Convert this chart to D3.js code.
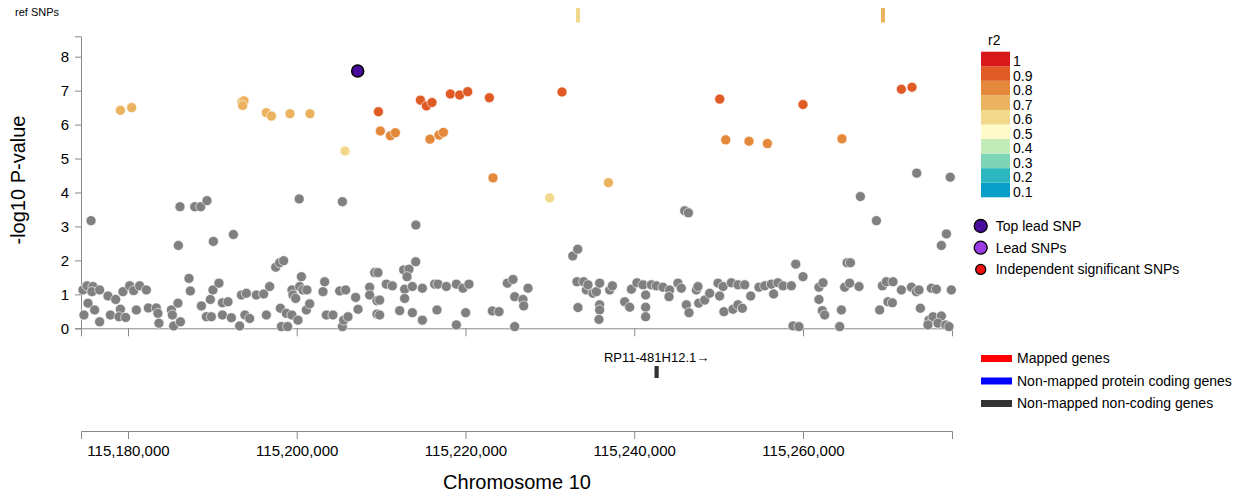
<!DOCTYPE html>
<html>
<head>
<meta charset="utf-8">
<script src="https://cdn.jsdelivr.net/npm/d3@7"></script>
<style>
body{margin:0;background:#fff;}
svg{font-family:"Liberation Sans",Arial,Helvetica,sans-serif;}
.axis path,.axis line{stroke:#888;}
.axis text{fill:#000;}
</style>
</head>
<body>
<svg id="chart" width="1252" height="497"></svg>
<script>

// region shown (bp)
const regionStart = 115174430;
const regionEnd = 115277660;
const xTicks = [115180000, 115200000, 115220000, 115240000, 115260000];
const yTicks = [0, 1, 2, 3, 4, 5, 6, 7, 8];

// r2 legend
const r2Labels = ["0.1","0.2","0.3","0.4","0.5","0.6","0.7","0.8","0.9","1"];
const r2Colors = ["#0a9fc8","#2bb7c0","#7dd4b6","#c2ebb8","#fffac8","#f1d88a","#ebb35f","#e4883a","#e05a26","#d7191c"];

// SNPs without LD to lead: [position, -log10 P]
const otherSnps = [
  [115175620,3.17],[115186160,3.58],[115185970,2.44],[115187910,3.58],[115188620,3.58],[115189360,3.76],
  [115190120,2.56],[115192490,2.76],[115200290,3.81],[115205410,3.73],[115214120,3.04],[115214100,1.96],
  [115232710,2.13],[115233300,2.33],[115245980,3.46],[115246420,3.40],[115266800,3.88],[115268700,3.17],
  [115273480,4.57],[115277450,4.45],[115277000,2.78],[115276400,2.44],[115259140,1.89],[115260000,1.52],
  [115265220,1.93],[115265620,1.93],[115197510,1.80],[115197980,1.93],[115198450,1.99],[115209240,1.64],
  [115209630,1.64],[115212680,1.72],[115213300,1.74],[115213070,1.52],[115187230,1.47],[115200550,1.52],
  [115174780,0.39],[115174660,1.13],[115175140,1.25],[115175260,0.74],[115175850,1.23],[115175730,1.08],
  [115176050,0.54],[115176640,0.19],[115176640,1.13],[115177630,0.95],[115177910,0.39],[115178540,0.85],
  [115179100,0.56],[115178930,0.34],[115179720,0.32],[115179400,1.08],[115180200,1.25],[115180670,1.11],
  [115181380,1.25],[115182180,1.13],[115180990,0.54],[115182410,0.60],[115183360,0.60],[115183550,0.44],
  [115183670,0.15],[115185140,0.54],[115185260,0.39],[115185410,0.07],[115185920,0.74],[115186210,0.19],
  [115187390,1.10],[115188700,0.66],[115189290,0.34],[115189880,0.34],[115189760,0.85],[115190070,1.13],
  [115190780,1.33],[115191190,0.75],[115191850,0.78],[115191190,0.39],[115192250,0.31],[115193230,0.07],
  [115193440,0.98],[115194030,1.03],[115195210,0.98],[115196080,1.01],[115193860,0.39],[115194420,0.29],
  [115196400,0.39],[115196790,1.23],[115198060,0.59],[115198770,0.44],[115199430,0.39],[115198180,0.05],
  [115198920,0.05],[115199430,1.13],[115199550,0.98],[115199870,0.88],[115200140,0.24],[115200350,1.23],
  [115200740,1.13],[115201210,1.13],[115201140,0.54],[115201530,0.72],[115203110,1.08],[115203310,1.37],
  [115203510,0.39],[115204290,0.39],[115205090,1.10],[115205800,1.13],[115205410,0.05],[115205560,0.24],
  [115206070,0.34],[115206980,0.91],[115207260,0.56],[115208640,1.21],[115208640,0.98],[115209510,0.81],
  [115209510,0.42],[115210620,1.30],[115209830,0.83],[115209830,0.39],[115211330,1.25],[115212200,0.52],
  [115212790,1.15],[115212790,0.88],[115213700,1.23],[115213700,0.46],[115214890,1.18],[115214890,0.24],
  [115216350,1.30],[115216740,1.30],[115216620,0.54],[115217730,1.23],[115218920,1.30],[115219700,1.18],
  [115220410,1.30],[115218920,0.10],[115220020,0.46],[115223180,0.51],[115223970,0.49],[115224960,1.33],
  [115225630,1.44],[115225830,0.93],[115226810,0.85],[115226900,0.66],[115225830,0.05],[115227410,1.18],
  [115233210,1.37],[115234010,1.37],[115233330,0.61],[115234330,1.13],[115234520,1.28],[115235110,1.03],
  [115235510,1.08],[115235900,1.33],[115235900,0.69],[115235900,0.54],[115235820,0.26],[115237090,1.13],
  [115237410,1.25],[115238870,0.78],[115239460,0.62],[115239660,1.15],[115240320,1.34],[115241040,1.28],
  [115242030,1.28],[115242620,1.25],[115243410,1.21],[115244200,1.13],[115245180,1.33],[115245580,1.18],
  [115241350,0.98],[115241350,0.62],[115241350,0.34],[115244120,0.93],[115246180,0.69],[115246490,0.46],
  [115247360,1.13],[115247550,1.23],[115247640,0.74],[115248350,0.83],[115248940,1.03],[115249930,1.33],
  [115250530,1.23],[115251510,1.34],[115252300,1.28],[115253090,1.28],[115250120,0.95],[115250630,0.49],
  [115251700,0.56],[115252290,0.69],[115252810,0.59],[115253800,0.95],[115254780,1.21],[115255460,1.25],
  [115256250,1.30],[115257030,1.34],[115257630,1.25],[115256520,1.01],[115258620,1.25],[115258810,0.07],
  [115259520,0.05],[115261890,1.21],[115262370,1.34],[115261890,0.85],[115262290,0.52],[115262570,0.39],
  [115264550,0.54],[115264350,0.05],[115264940,1.21],[115265530,1.33],[115266640,1.23],[115269410,1.25],
  [115269880,1.37],[115270670,1.37],[115269090,0.54],[115270070,0.78],[115270590,0.75],[115271660,1.13],
  [115272850,1.21],[115273440,1.08],[115273750,1.13],[115273910,0.59],[115275210,1.18],[115275810,1.15],
  [115274930,0.24],[115275410,0.34],[115276400,0.36],[115274810,0.10],[115275990,0.15],[115276910,0.10],
  [115277300,0.05],[115277580,1.13]
];

// SNPs in LD with the lead SNP: [position, -log10 P, r2]
const ldSnps = [
  [115179100,6.42,0.65],[115180440,6.50,0.65],[115193510,6.67,0.65],[115193750,6.70,0.65],[115193590,6.56,0.65],
  [115196400,6.35,0.65],[115197000,6.25,0.65],[115199200,6.32,0.65],[115201570,6.32,0.65],[115205720,5.22,0.58],
  [115209680,6.38,0.85],[115209910,5.81,0.75],[115211100,5.67,0.75],[115211690,5.76,0.75],[115214660,6.72,0.85],
  [115215370,6.55,0.85],[115216030,6.65,0.85],[115218210,6.90,0.85],[115219310,6.87,0.85],[115220260,6.97,0.85],
  [115222830,6.79,0.85],[115231440,6.96,0.85],[115215790,5.57,0.75],[115216860,5.69,0.75],[115217380,5.77,0.75],
  [115223260,4.43,0.75],[115229980,3.84,0.55],[115236940,4.29,0.65],[115250130,6.75,0.85],[115250840,5.55,0.75],
  [115253600,5.51,0.75],[115255780,5.44,0.75],[115260000,6.59,0.85],[115264620,5.58,0.75],[115271660,7.04,0.85],
  [115272920,7.10,0.85]
];

const topLead = [115207220, 7.58];

// reference panel SNPs: [position, r2]
const refSnps = [[115233330,0.58],[115269480,0.65]];

const genes = [
  {name:"RP11-481H12.1", start:115242400, end:115242900, strand:"+", type:"noncoding"}
];

const snpLegend = [
  {label:"Top lead SNP", fill:"#4a0c9c", r:6.5},
  {label:"Lead SNPs", fill:"#9a3be6", r:6.5},
  {label:"Independent significant SNPs", fill:"#f01010", r:5}
];
const geneLegend = [
  {label:"Mapped genes", fill:"#ff0000"},
  {label:"Non-mapped protein coding genes", fill:"#0000ff"},
  {label:"Non-mapped non-coding genes", fill:"#333333"}
];

const svg = d3.select("#chart");

const x = d3.scaleLinear()
    .domain([regionStart, regionEnd])
    .range([81, 952]);

const y = d3.scaleLinear()
    .domain([0, 8.6])
    .range([328.3, 36.3]);

const r2Color = d3.scaleThreshold()
    .domain([0.1,0.2,0.3,0.4,0.5,0.6,0.7,0.8,0.9])
    .range(r2Colors);

// ref SNPs strip
svg.append("text")
    .attr("x", 15)
    .attr("y", 15.5)
    .attr("font-size", 11)
    .text("ref SNPs");

svg.selectAll(".ref")
    .data(refSnps)
    .enter()
    .append("rect")
    .attr("x", d => x(d[0]) - 2)
    .attr("y", 8)
    .attr("width", 4)
    .attr("height", 14.5)
    .attr("fill", d => r2Color(d[1]));

// axes
svg.append("g")
    .attr("class", "axis")
    .attr("transform", "translate(81,0)")
    .call(d3.axisLeft(y).tickValues(yTicks).tickSize(6).tickSizeOuter(6).tickPadding(6))
    .attr("font-size", 15)
    .attr("font-family", null);

svg.append("g")
    .attr("class", "axis")
    .attr("transform", "translate(0,328.3)")
    .call(d3.axisBottom(x).tickValues(xTicks).tickFormat("").tickSize(8).tickSizeOuter(8));

svg.append("text")
    .attr("transform", "translate(25,180) rotate(-90)")
    .attr("text-anchor", "middle")
    .attr("font-size", 20)
    .text("-log10 P-value");

// points
svg.selectAll(".grey")
    .data(otherSnps)
    .enter()
    .append("circle")
    .attr("cx", d => x(d[0]))
    .attr("cy", d => y(d[1]))
    .attr("r", 5)
    .attr("fill", "#808080")
    .attr("stroke", "#fff")
    .attr("stroke-width", 0.6);

svg.selectAll(".ld")
    .data(ldSnps)
    .enter()
    .append("circle")
    .attr("cx", d => x(d[0]))
    .attr("cy", d => y(d[1]))
    .attr("r", 5)
    .attr("fill", d => r2Color(d[2]))
    .attr("stroke", "#fff")
    .attr("stroke-width", 0.6);

svg.append("circle")
    .attr("cx", x(topLead[0]))
    .attr("cy", y(topLead[1]))
    .attr("r", 6)
    .attr("fill", "#4a0c9c")
    .attr("stroke", "#000")
    .attr("stroke-width", 1.5);

// r2 legend
const leg = svg.append("g");

leg.append("text")
    .attr("x", 988)
    .attr("y", 45)
    .attr("font-size", 14)
    .text("r2");

const boxH = 14.56;
const legItems = r2Labels.map((l, i) => ({label: l, color: r2Colors[i], row: 9 - i}));

leg.selectAll("rect")
    .data(legItems)
    .enter()
    .append("rect")
    .attr("x", 981)
    .attr("y", d => 51.7 + d.row * boxH)
    .attr("width", 29)
    .attr("height", boxH)
    .attr("fill", d => d.color);

leg.selectAll(".lab")
    .data(legItems)
    .enter()
    .append("text")
    .attr("x", 1013)
    .attr("y", d => 51.7 + d.row * boxH + boxH/2 + 7)
    .attr("font-size", 14)
    .text(d => d.label);

const snpLeg = svg.append("g")
    .selectAll("g")
    .data(snpLegend)
    .enter()
    .append("g")
    .attr("transform", (d, i) => `translate(980.7,${226 + i*21.7})`);

snpLeg.append("circle")
    .attr("r", d => d.r)
    .attr("fill", d => d.fill)
    .attr("stroke", "#000")
    .attr("stroke-width", 1.3);

snpLeg.append("text")
    .attr("x", 15)
    .attr("y", 5)
    .attr("font-size", 14)
    .text(d => d.label);

// gene track
const geneG = svg.append("g")
    .selectAll("g")
    .data(genes)
    .enter()
    .append("g");

geneG.append("rect")
    .attr("x", d => x(d.start))
    .attr("y", 366)
    .attr("width", d => Math.max(3, x(d.end) - x(d.start)))
    .attr("height", 12)
    .attr("fill", "#333");

geneG.append("text")
    .attr("x", d => (x(d.start) + x(d.end)) / 2)
    .attr("y", 362)
    .attr("text-anchor", "middle")
    .attr("font-size", 13)
    .text(d => d.name + (d.strand === "+" ? "\u2192" : "\u2190"));

const gLeg = svg.append("g")
    .selectAll("g")
    .data(geneLegend)
    .enter()
    .append("g")
    .attr("transform", (d, i) => `translate(981,${355 + i*22.5})`);

gLeg.append("rect")
    .attr("width", 31)
    .attr("height", 7)
    .attr("fill", d => d.fill);

gLeg.append("text")
    .attr("x", 36)
    .attr("y", 8)
    .attr("font-size", 14)
    .text(d => d.label);

// chromosome axis
svg.append("g")
    .attr("class", "axis")
    .attr("transform", "translate(0,431)")
    .call(d3.axisBottom(x).tickValues(xTicks).tickFormat(d3.format(",")).tickSize(8).tickSizeOuter(8).tickPadding(6))
    .attr("font-size", 15)
    .attr("font-family", null);

svg.append("text")
    .attr("x", 517)
    .attr("y", 489)
    .attr("text-anchor", "middle")
    .attr("font-size", 20)
    .text("Chromosome 10");

</script>
</body>
</html>
